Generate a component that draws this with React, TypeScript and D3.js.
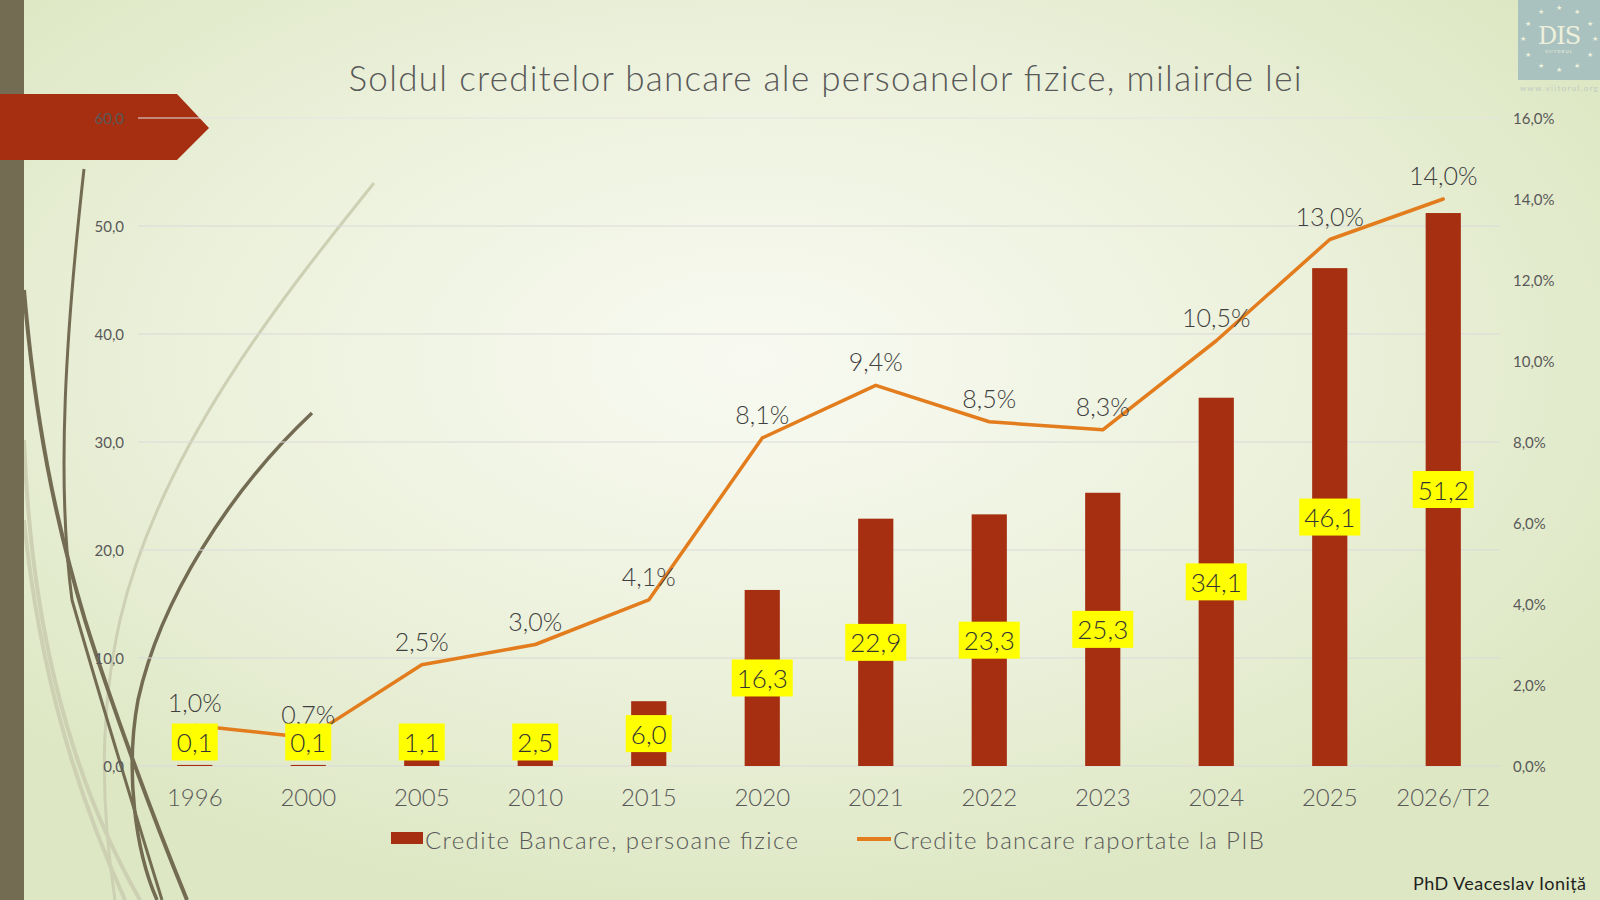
import * as d3 from "d3";

// chart data
const years = ["1996", "2000", "2005", "2010", "2015", "2020", "2021", "2022", "2023", "2024", "2025", "2026/T2"];
const credits = [0.1, 0.1, 1.1, 2.5, 6.0, 16.3, 22.9, 23.3, 25.3, 34.1, 46.1, 51.2];
const gdpShare = [1.0, 0.7, 2.5, 3.0, 4.1, 8.1, 9.4, 8.5, 8.3, 10.5, 13.0, 14.0];
const leftTicks = [0, 10, 20, 30, 40, 50, 60];
const rightTicks = [0, 2, 4, 6, 8, 10, 12, 14, 16];

const W = 1600;
const H = 900;
const FONT = "Lato, 'Noto Sans', sans-serif";
const TEXT = "#595959";

const fmt = (v: number) => v.toFixed(1).replace(".", ",");

// left-side decorative strokes
const darkCurves = [
  { d: "M84,169 C66,330 56,480 72,600 C95,680 125,780 162,900", w: 3 },
  { d: "M24,290 C35,420 55,520 85,620 C110,700 150,810 187,900", w: 4 },
  { d: "M312,413 C230,490 160,600 138,700 C125,770 135,850 157,900", w: 3.5 },
];
const lightCurves = [
  { d: "M374,183 C280,300 160,450 120,620 C100,710 100,800 115,900", w: 3 },
  { d: "M24,440 C30,600 60,760 140,900", w: 4 },
  { d: "M24,520 C40,680 80,800 125,900", w: 4 },
];

export default function App() {
  const x = d3.scaleBand<string>().domain(years).range([138, 1500]).paddingInner(0.69).paddingOuter(0.345);
  const yL = d3.scaleLinear().domain([0, 60]).range([766, 118]);
  const yR = d3.scaleLinear().domain([0, 16]).range([766, 118]);
  const cx = (c: string) => (x(c) ?? 0) + x.bandwidth() / 2;

  const line = d3
    .line<number>()
    .x((_, i) => cx(years[i]))
    .y((d) => yR(d));

  // ring of stars on the logo
  const stars = d3.range(12).map((i) => {
    const a = (i / 12) * Math.PI * 2;
    return { x: 1559 + Math.cos(a) * 36, y: 38 + Math.sin(a) * 31 };
  });

  return (
    <svg width={W} height={H} style={{ position: "absolute", left: 0, top: 0, display: "block" }} fontFamily={FONT}>
      <defs>
        <radialGradient id="bg" cx="0.47" cy="0.4" r="0.62">
          <stop offset="0" stopColor="#f8faf1" />
          <stop offset="0.55" stopColor="#ecf1dc" />
          <stop offset="1" stopColor="#dde7c3" />
        </radialGradient>
      </defs>
      <rect width={W} height={H} fill="url(#bg)" />

      {lightCurves.map((c, i) => (
        <path key={"l" + i} d={c.d} fill="none" stroke="#cdd0b3" strokeWidth={c.w} />
      ))}
      {darkCurves.map((c, i) => (
        <path key={"d" + i} d={c.d} fill="none" stroke="#736c53" strokeWidth={c.w} />
      ))}

      <rect x={0} y={0} width={24} height={H} fill="#736c53" />
      <polygon points="0,94 177,94 209,128 177,160 0,160" fill="#a52f10" />

      {/* logo */}
      <rect x={1518} y={0} width={82} height={80} fill="#a9c2bf" />
      {stars.map((s, i) => (
        <text key={i} x={s.x} y={s.y} fontSize={7} fill="#eef0dc" textAnchor="middle" dominantBaseline="central">
          ★
        </text>
      ))}
      <text x={1559} y={44} fontSize={24} fill="#eef0dc" textAnchor="middle" fontFamily="'DejaVu Serif', serif" letterSpacing={-1}>
        DIS
      </text>
      <text x={1559} y={53} fontSize={4.5} fill="#eef0dc" textAnchor="middle" letterSpacing={1}>
        VIITORUL
      </text>
      <text x={1559} y={91} fontSize={8} fill="#bfc9c2" textAnchor="middle" textLength={78} lengthAdjust="spacing">
        www.viitorul.org
      </text>

      <text x={825} y={91} fontSize={35} fontWeight={300} fill={TEXT} textAnchor="middle" textLength={953} lengthAdjust="spacing">
        Soldul creditelor bancare ale persoanelor fizice, milairde lei
      </text>

      {/* grid and axes */}
      {leftTicks.map((t) => (
        <g key={t}>
          <line x1={138} x2={1500} y1={yL(t)} y2={yL(t)} stroke={t === 60 ? "#e3e3e3" : "#d9d9d9"} strokeWidth={1.2} />
          <text x={124} y={yL(t)} fontSize={15} fill={TEXT} textAnchor="end" dominantBaseline="central">
            {fmt(t)}
          </text>
        </g>
      ))}
      {rightTicks.map((t) => (
        <text key={t} x={1513} y={yR(t)} fontSize={15} fill={TEXT} dominantBaseline="central">
          {fmt(t)}%
        </text>
      ))}
      {years.map((c) => (
        <text key={c} x={cx(c)} y={796} fontSize={24} fontWeight={300} fill={TEXT} textAnchor="middle" dominantBaseline="central">
          {c}
        </text>
      ))}

      {/* bars */}
      {credits.map((v, i) => (
        <rect key={i} x={x(years[i])} y={yL(v)} width={x.bandwidth()} height={yL(0) - yL(v)} fill="#a52f10" />
      ))}

      {/* line */}
      <path d={line(gdpShare) ?? ""} fill="none" stroke="#e27c1c" strokeWidth={3.5} strokeLinejoin="round" strokeLinecap="round" />

      {/* line labels */}
      {gdpShare.map((v, i) => (
        <text key={i} x={cx(years[i])} y={yR(v) - 24} fontSize={25} fontWeight={300} fill="#404040" textAnchor="middle" dominantBaseline="central">
          {fmt(v)}%
        </text>
      ))}

      {/* bar labels */}
      {credits.map((v, i) => {
        const s = fmt(v);
        const bw = s.length * 15 + 1;
        const cy = Math.min(yL(v / 2), 742);
        return (
          <g key={i}>
            <rect x={cx(years[i]) - bw / 2} y={cy - 18.5} width={bw} height={37} fill="#ffff00" />
            <text x={cx(years[i])} y={cy} fontSize={26} fontWeight={300} fill="#333333" textAnchor="middle" dominantBaseline="central">
              {s}
            </text>
          </g>
        );
      })}

      {/* legend */}
      <rect x={391} y={832} width={32} height={12} fill="#a52f10" />
      <text x={425} y={839} fontSize={24} fontWeight={300} fill={TEXT} dominantBaseline="central" textLength={373} lengthAdjust="spacing">
        Credite Bancare, persoane fizice
      </text>
      <line x1={857} x2={891} y1={839} y2={839} stroke="#e27c1c" strokeWidth={4} />
      <text x={893} y={839} fontSize={24} fontWeight={300} fill={TEXT} dominantBaseline="central" textLength={371} lengthAdjust="spacing">
        Credite bancare raportate la PIB
      </text>

      <text x={1413} y={890} fontSize={18} fill="#1f1f1f" textLength={173} lengthAdjust="spacing">
        PhD Veaceslav Ioniță
      </text>
    </svg>
  );
}
